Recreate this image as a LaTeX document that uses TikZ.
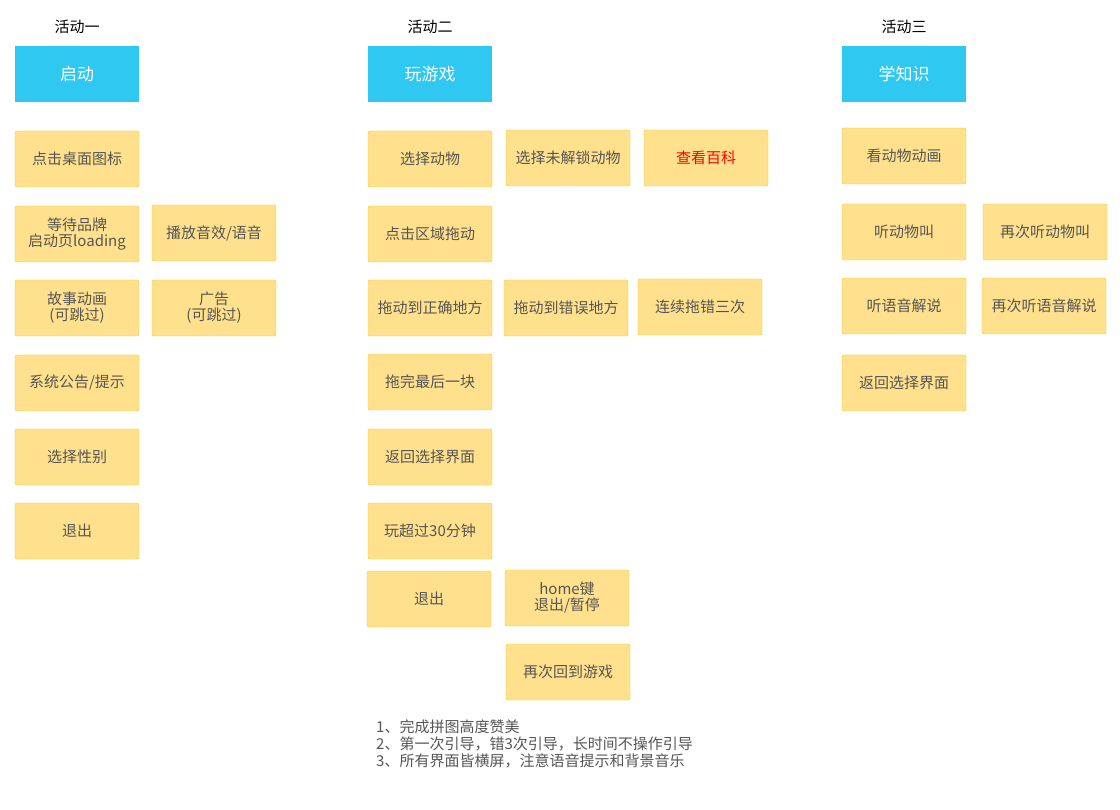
\documentclass[tikz,border=0pt]{standalone}
\usepackage{fontspec}
\setmainfont{Noto Sans CJK SC}
\definecolor{hdr}{HTML}{2EC8F1}
\definecolor{bfill}{HTML}{FFE18D}
\definecolor{bline}{HTML}{F4C814}
\definecolor{txt}{HTML}{555555}
\begin{document}
\begin{tikzpicture}[x=1pt,y=-1pt,
  box/.style={draw=bline,fill=bfill,rounded corners=2pt,minimum width=124pt,minimum height=56pt,text=txt,font=\fontsize{15}{16}\selectfont,align=center,inner sep=1pt},
  hbox/.style={fill=hdr,minimum width=124pt,minimum height=56pt,text=white,font=\fontsize{17}{18}\selectfont,inner sep=1pt},
  ttl/.style={font=\fontsize{15}{16}\selectfont,text=black}]
\useasboundingbox (0,0) rectangle (1120,810);
\node[ttl] (t1) at (77,27) {活动一};
\node[ttl] (t2) at (430,27) {活动二};
\node[ttl] (t3) at (904,27) {活动三};
\node[hbox] (h1) at (77,74) {启动};
\node[hbox] (h2) at (430,74) {玩游戏};
\node[hbox] (h3) at (904,74) {学知识};
% col 1
\node[box] (a1) at (77,159) {点击桌面图标};
\node[box] (a2) at (77,234) {等待品牌\\启动页loading};
\node[box] (a3) at (77,308) {故事动画\\(可跳过)};
\node[box] (a4) at (77,383) {系统公告/提示};
\node[box] (a5) at (77,457) {选择性别};
\node[box] (a6) at (77,531) {退出};
\node[box] (b1) at (214,233) {播放音效/语音};
\node[box] (b2) at (214,308) {广告\\(可跳过)};
% col 2
\node[box] (c1) at (430,159) {选择动物};
\node[box] (c2) at (430,234) {点击区域拖动};
\node[box] (c3) at (430,308) {拖动到正确地方};
\node[box] (c4) at (430,382) {拖完最后一块};
\node[box] (c5) at (430,457) {返回选择界面};
\node[box] (c6) at (430,531) {玩超过30分钟};
\node[box] (c7) at (429,599) {退出};
\node[box] (d1) at (568,158) {选择未解锁动物};
\node[box] (d2) at (566,308) {拖动到错误地方};
\node[box] (d3) at (567,598) {home键\\退出/暂停};
\node[box] (d4) at (568,672) {再次回到游戏};
\node[box,text=red] (e1) at (706,158) {查看百科};
\node[box] (e2) at (700,307) {连续拖错三次};
% col 3
\node[box] (f1) at (904,156) {看动物动画};
\node[box] (f2) at (904,232) {听动物叫};
\node[box] (f3) at (904,306) {听语音解说};
\node[box] (f4) at (904,383) {返回选择界面};
\node[box] (g1) at (1045,232) {再次听动物叫};
\node[box] (g2) at (1044,306) {再次听语音解说};
\node[anchor=north west,align=left,text=txt,font=\fontsize{15}{17}\selectfont,inner sep=0pt] (n) at (376,720) {1、完成拼图高度赞美\\2、第一次引导，错3次引导，长时间不操作引导\\3、所有界面皆横屏，注意语音提示和背景音乐};
\end{tikzpicture}
\end{document}
